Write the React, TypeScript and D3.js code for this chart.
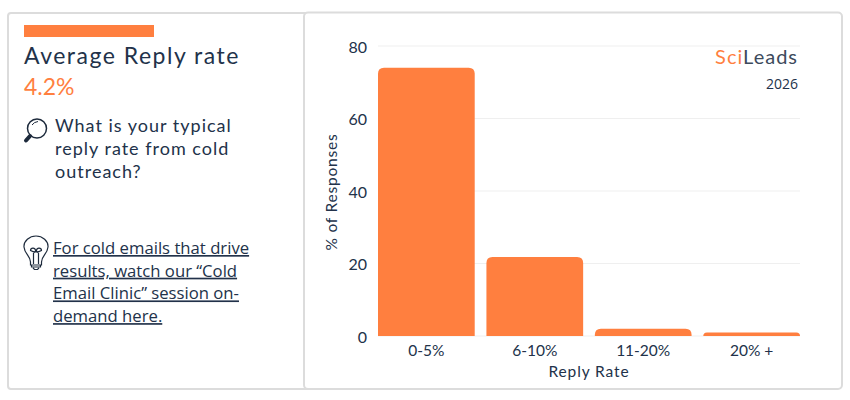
import React from "react";
import * as d3 from "d3";

const categories = ["0-5%", "6-10%", "11-20%", "20% +"];
const responses = [74, 21.8, 2, 1];
const yTicks = [0, 20, 40, 60, 80];
const titleLines = ["What is your typical", "reply rate from cold", "outreach?"];
const linkLines = [
  "For cold emails that drive",
  "results, watch our “Cold",
  "Email Clinic” session on-",
  "demand here.",
];

const ORANGE = "#ff7f3f";
const NAVY = "#22324a";
const BORDER = "#dcdcdc";
const ROUND_FONT = "Lato, 'Noto Sans', sans-serif";
const BODY_FONT = "'Open Sans', 'Noto Sans', sans-serif";

const width = 850;
const height = 400;

const x = d3.scaleBand<string>().domain(categories).range([378, 800]).paddingInner(0.108);
const y = d3.scaleLinear().domain([0, 80]).range([336, 46]);

// bar with only the top corners rounded
const barPath = (x0: number, y0: number, w: number, y1: number) => {
  const r = Math.min(6, y1 - y0);
  const p = d3.path();
  p.moveTo(x0, y1);
  p.lineTo(x0, y0 + r);
  p.quadraticCurveTo(x0, y0, x0 + r, y0);
  p.lineTo(x0 + w - r, y0);
  p.quadraticCurveTo(x0 + w, y0, x0 + w, y0 + r);
  p.lineTo(x0 + w, y1);
  p.closePath();
  return p.toString();
};

const App: React.FC = () => {
  return (
    <svg
      width={width}
      height={height}
      style={{ position: "absolute", left: 0, top: 0, background: "#fff" }}
    >
      {/* cards */}
      <rect x={8} y={13} width={320} height={376} rx={3} fill="#fff" stroke={BORDER} strokeWidth={2} />
      <rect x={304} y={12.5} width={538} height={376.5} rx={4} fill="#fff" stroke={BORDER} strokeWidth={2} />

      {/* left panel */}
      <rect x={24} y={25} width={130} height={12} fill={ORANGE} />
      <text x={24} y={64} fontFamily={ROUND_FONT} fontSize={23} letterSpacing={1.5} fill={NAVY}>
        Average Reply rate
      </text>
      <text x={24} y={95} fontFamily={ROUND_FONT} fontSize={23} fill={ORANGE}>
        4.2%
      </text>

      {/* magnifier icon */}
      <g fill="none" stroke="#1d2a3c">
        <circle cx={37} cy={128.5} r={9.5} strokeWidth={1.5} />
        <path d="M30 136 L26 140.5" strokeWidth={4} strokeLinecap="round" />
        <path d="M32 125 Q34 122 38 121.5" strokeWidth={1} />
      </g>

      {titleLines.map((line, i) => (
        <text
          key={line}
          x={55}
          y={132 + i * 23}
          fontFamily={ROUND_FONT}
          fontSize={18}
          letterSpacing={1}
          fill={NAVY}
        >
          {line}
        </text>
      ))}

      {/* light bulb icon */}
      <g fill="none" stroke="#1d2a3c" strokeWidth={1.2}>
        <path d="M30.5 262 C30.5 256 24.5 254 24 247 C23.5 241 29.5 236 36 236 C42.5 236 48.5 241 48 247 C47.5 254 41.5 256 41.5 262 V265 H30.5 Z" />
        <path d="M31.5 265 V267 H40.5 V265 M33 268 L34.5 269.5 H37.5 L39 268" />
        <path d="M33.5 264 V253 M38.5 264 V253 M33.5 253 A2.5 2.5 0 1 0 30.5 250.5 Q33 252 36 252 Q39 252 41.5 250.5 A2.5 2.5 0 1 0 38.5 253" />
      </g>

      {linkLines.map((line, i) => (
        <text
          key={line}
          x={53}
          y={254 + i * 22.7}
          fontFamily={BODY_FONT}
          fontSize={16.7}
          textDecoration="underline"
          fill={NAVY}
        >
          {line}
        </text>
      ))}

      {/* grid lines */}
      {yTicks.map((t) => (
        <line key={t} x1={378} x2={800} y1={y(t)} y2={y(t)} stroke="#efefef" strokeWidth={1} />
      ))}

      {/* bars */}
      {categories.map((c, i) => (
        <path
          key={c}
          d={barPath(x(c) as number, y(responses[i]), x.bandwidth(), y(0))}
          fill={ORANGE}
        />
      ))}

      {/* y axis */}
      {yTicks.map((t) => (
        <text
          key={t}
          x={367}
          y={y(t) + 1}
          dy="0.35em"
          textAnchor="end"
          fontFamily={ROUND_FONT}
          fontSize={16}
          fill={NAVY}
        >
          {t}
        </text>
      ))}
      <text
        transform="translate(337,192) rotate(-90)"
        textAnchor="middle"
        fontFamily={ROUND_FONT}
        fontSize={15.5}
        letterSpacing={0.8}
        fill={NAVY}
      >
        % of Responses
      </text>

      {/* x axis */}
      {categories.map((c) => (
        <text
          key={c}
          x={(x(c) as number) + x.bandwidth() / 2}
          y={356}
          textAnchor="middle"
          fontFamily={ROUND_FONT}
          fontSize={15.5}
          fill={NAVY}
        >
          {c}
        </text>
      ))}
      <text
        x={589}
        y={377}
        textAnchor="middle"
        fontFamily={ROUND_FONT}
        fontSize={15.5}
        letterSpacing={0.9}
        fill={NAVY}
      >
        Reply Rate
      </text>

      {/* brand */}
      <text x={798} y={64} textAnchor="end" fontFamily={ROUND_FONT} fontSize={20} letterSpacing={1}>
        <tspan fill={ORANGE}>Sci</tspan>
        <tspan fill="#3d4a5c">Leads</tspan>
      </text>
      <text x={798} y={89} textAnchor="end" fontFamily={BODY_FONT} fontSize={14} fill={NAVY}>
        2026
      </text>
    </svg>
  );
};

export default App;
